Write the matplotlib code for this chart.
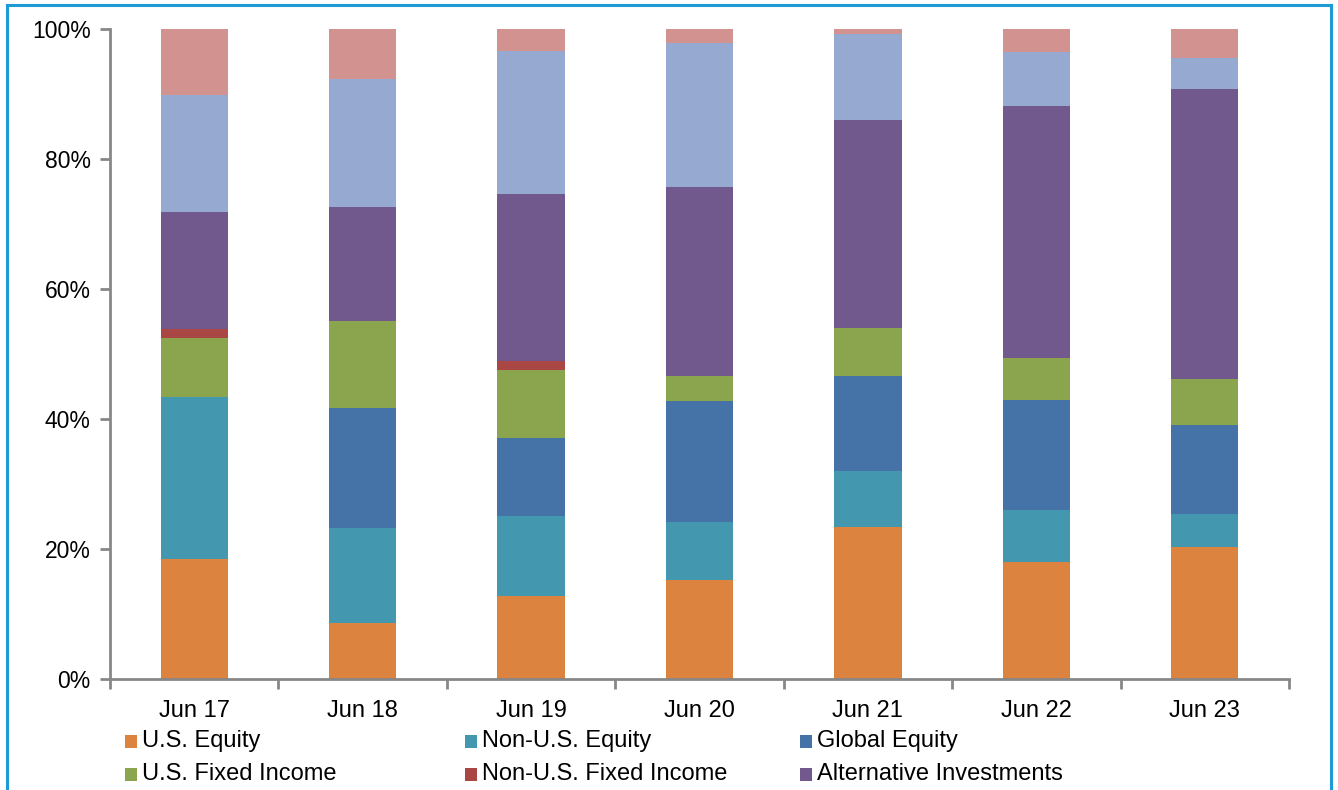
import matplotlib
matplotlib.use("Agg")
import matplotlib.pyplot as plt
from matplotlib.patches import Rectangle
from matplotlib.lines import Line2D
from matplotlib.ticker import FuncFormatter, FixedLocator
import numpy as np

plt.rcParams['font.family'] = ['Liberation Sans', 'DejaVu Sans']

periods = ["Jun 17", "Jun 18", "Jun 19", "Jun 20", "Jun 21", "Jun 22", "Jun 23"]

us_equity        = [18.4,  8.6, 12.8, 15.2, 23.4, 18.0, 20.3]
non_us_equity    = [25.0, 14.6, 12.3,  9.0,  8.6,  8.0,  5.1]
global_equity    = [ 0.0, 18.5, 12.0, 18.6, 14.6, 16.9, 13.7]
us_fixed_income  = [ 9.1, 13.4, 10.4,  3.8,  7.4,  6.5,  7.1]
non_us_fixed_inc = [ 1.3,  0.0,  1.4,  0.0,  0.0,  0.0,  0.0]
alternatives     = [18.0, 17.5, 25.7, 29.1, 32.0, 38.8, 44.6]
real_assets      = [18.0, 19.7, 22.0, 22.1, 13.3,  8.3,  4.8]
cash_other       = [10.2,  7.7,  3.4,  2.2,  0.7,  3.5,  4.4]

series = [
    ("U.S. Equity", us_equity, "#DC843F"),
    ("Non-U.S. Equity", non_us_equity, "#4398B0"),
    ("Global Equity", global_equity, "#4673A7"),
    ("U.S. Fixed Income", us_fixed_income, "#8AA54E"),
    ("Non-U.S. Fixed Income", non_us_fixed_inc, "#AA4644"),
    ("Alternative Investments", alternatives, "#71598E"),
    ("Real Assets", real_assets, "#96AAD1"),
    ("Cash & Other", cash_other, "#D29290"),
]

W, H = 1338, 790
fig = plt.figure(figsize=(W / 100, H / 100), dpi=100)
ax = fig.add_axes([110 / W, 1 - 679 / H, (1289 - 110) / W, (679 - 29) / H])

x = np.arange(len(periods))
bottom = np.zeros(len(periods))
for name, vals, color in series:
    vals = np.array(vals, dtype=float)
    ax.bar(x, vals, width=0.40, bottom=bottom, color=color, label=name,
           linewidth=0, zorder=2)
    bottom += vals

axis_grey = "#878787"
ax.set_xlim(-0.5, len(periods) - 0.5)
ax.set_ylim(0, 100)
for side in ("top", "right"):
    ax.spines[side].set_visible(False)
for side in ("left", "bottom"):
    ax.spines[side].set_color(axis_grey)
    ax.spines[side].set_linewidth(2)
    ax.spines[side].set_zorder(3)

ax.set_yticks([0, 20, 40, 60, 80, 100])
ax.yaxis.set_major_formatter(FuncFormatter(lambda v, _: f"{v:.0f}%"))
ax.tick_params(axis="y", direction="out", length=7, width=2, color=axis_grey,
               labelsize=16.5, pad=7, labelcolor="black")

# category boundaries carry the ticks, labels sit at bar centres
ax.xaxis.set_major_locator(FixedLocator(np.arange(len(periods) + 1) - 0.5))
ax.xaxis.set_minor_locator(FixedLocator(x))
ax.set_xticklabels([""] * (len(periods) + 1))
ax.set_xticklabels(periods, minor=True)
ax.tick_params(axis="x", which="major", direction="out", length=7, width=2,
               color=axis_grey)
ax.tick_params(axis="x", which="minor", length=0, labelsize=17, pad=15,
               labelcolor="black")

# legend, filled row by row
legend_cols = [125, 465, 800]
legend_rows = [741, 774]
for i, (name, _, color) in enumerate(series[:6]):
    cx = legend_cols[i % 3]
    cy = legend_rows[i // 3]
    fig.patches.append(Rectangle((cx / W, 1 - (cy + 6.5) / H), 12 / W, 13 / H,
                                 transform=fig.transFigure, facecolor=color,
                                 edgecolor="none"))
    fig.text((cx + 17) / W, 1 - cy / H, name, fontsize=17, va="center",
             ha="left", color="black")

# frame around the chart area
frame_color = "#1E9AD6"
for xs, ys in (([7, 7], [5, 790]), ([7, 1331], [5, 5]), ([1331, 1331], [5, 790])):
    fig.add_artist(Line2D([v / W for v in xs], [1 - v / H for v in ys],
                          transform=fig.transFigure, color=frame_color,
                          linewidth=2.2))

fig.savefig("out.png", dpi=100)
